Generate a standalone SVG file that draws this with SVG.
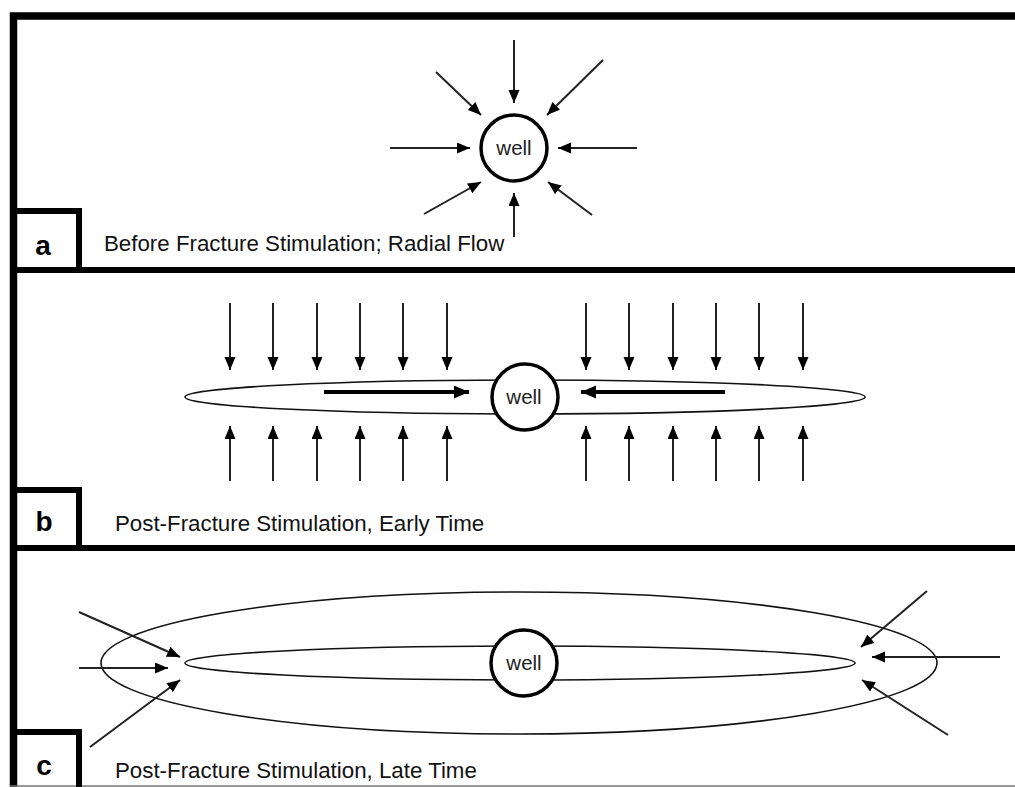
<svg xmlns="http://www.w3.org/2000/svg" width="1015" height="787" viewBox="0 0 1015 787">
<style>
.frame{fill:none;stroke:#000;stroke-width:7.5}
.box{fill:none;stroke:#000;stroke-width:6}
.well{fill:#fff;stroke:#000;stroke-width:3.5}
.frac{fill:none;stroke:#111;stroke-width:1.6}
.arr{stroke:#222;stroke-width:2;fill:none;marker-end:url(#ah)}
.thick{stroke:#000;stroke-width:4;fill:none;marker-end:url(#ahb)}
.wt{font-family:"Liberation Sans",Arial,sans-serif;font-size:20.5px;text-anchor:middle;fill:#222}
.cap{font-family:"Liberation Sans",Arial,sans-serif;font-size:22.3px;fill:#111}
.lbl{font-family:"Liberation Sans",Arial,sans-serif;font-size:28px;font-weight:bold;text-anchor:middle;fill:#000}
</style>
<defs>
<marker id="ah" markerUnits="userSpaceOnUse" markerWidth="14" markerHeight="12" refX="13" refY="5.5" orient="auto" viewBox="0 0 14 12">
<path d="M0,0 L13,5.5 L0,11 z" fill="#000"/>
</marker>
<marker id="ahb" markerUnits="userSpaceOnUse" markerWidth="16" markerHeight="14" refX="15" refY="6.5" orient="auto" viewBox="0 0 16 14">
<path d="M0,0 L15,6.5 L0,13 z" fill="#000"/>
</marker>
</defs>
<rect width="1015" height="787" fill="#fff"/>
<g id="frame">
<path class="frame" d="M1015,16 H13.5 V787"/>
<line x1="10" y1="270" x2="1015" y2="270" stroke="#000" stroke-width="6"/>
<line x1="10" y1="548" x2="1015" y2="548" stroke="#000" stroke-width="6"/>
<line x1="10" y1="786" x2="1015" y2="786" stroke="#777" stroke-width="1.5"/>
</g>
<g id="panel-a-label">
<path class="box" d="M10,211 H79 V270"/>
<text class="lbl" x="43" y="255">a</text>
<text class="cap" x="104" y="251">Before Fracture Stimulation; Radial Flow</text>
</g>
<g id="panel-b-label">
<path class="box" d="M10,490 H79 V548"/>
<text class="lbl" x="44" y="531">b</text>
<text class="cap" x="115" y="531">Post-Fracture Stimulation, Early Time</text>
</g>
<g id="panel-c-label">
<path class="box" d="M10,732 H79 V787"/>
<text class="lbl" x="44" y="775">c</text>
<text class="cap" x="115" y="778">Post-Fracture Stimulation, Late Time</text>
</g>
<g id="fracture-b">
<ellipse class="frac" cx="525" cy="397" rx="340" ry="17"/>
</g>
<g id="stimulated-region-c">
<ellipse class="frac" cx="519" cy="663" rx="418" ry="71"/>
</g>
<g id="fracture-c">
<ellipse class="frac" cx="520" cy="663" rx="335" ry="17"/>
</g>
<g id="connectors">
<!-- panel a -->
<line class="arr" x1="514" y1="40" x2="514" y2="103"/>
<line class="arr" x1="436" y1="72" x2="481" y2="115"/>
<line class="arr" x1="603" y1="60" x2="547" y2="115"/>
<line class="arr" x1="390" y1="148" x2="470" y2="148"/>
<line class="arr" x1="637" y1="148" x2="558" y2="148"/>
<line class="arr" x1="424" y1="214" x2="481" y2="182"/>
<line class="arr" x1="514" y1="237" x2="514" y2="193"/>
<line class="arr" x1="592" y1="215" x2="548" y2="182"/>
<!-- panel b top -->
<line class="arr" x1="230" y1="303" x2="230" y2="370"/>
<line class="arr" x1="273" y1="303" x2="273" y2="370"/>
<line class="arr" x1="317" y1="303" x2="317" y2="370"/>
<line class="arr" x1="360" y1="303" x2="360" y2="370"/>
<line class="arr" x1="403" y1="303" x2="403" y2="370"/>
<line class="arr" x1="447" y1="303" x2="447" y2="370"/>
<line class="arr" x1="586" y1="303" x2="586" y2="370"/>
<line class="arr" x1="629" y1="303" x2="629" y2="370"/>
<line class="arr" x1="673" y1="303" x2="673" y2="370"/>
<line class="arr" x1="716" y1="303" x2="716" y2="370"/>
<line class="arr" x1="759" y1="303" x2="759" y2="370"/>
<line class="arr" x1="803" y1="303" x2="803" y2="370"/>
<!-- panel b bottom -->
<line class="arr" x1="230" y1="481" x2="230" y2="426"/>
<line class="arr" x1="273" y1="481" x2="273" y2="426"/>
<line class="arr" x1="317" y1="481" x2="317" y2="426"/>
<line class="arr" x1="360" y1="481" x2="360" y2="426"/>
<line class="arr" x1="403" y1="481" x2="403" y2="426"/>
<line class="arr" x1="447" y1="481" x2="447" y2="426"/>
<line class="arr" x1="586" y1="481" x2="586" y2="426"/>
<line class="arr" x1="629" y1="481" x2="629" y2="426"/>
<line class="arr" x1="673" y1="481" x2="673" y2="426"/>
<line class="arr" x1="716" y1="481" x2="716" y2="426"/>
<line class="arr" x1="759" y1="481" x2="759" y2="426"/>
<line class="arr" x1="803" y1="481" x2="803" y2="426"/>
<!-- panel b fracture flow -->
<line class="thick" x1="324" y1="392" x2="469" y2="392"/>
<line class="thick" x1="725" y1="392" x2="581" y2="392"/>
<!-- panel c -->
<line class="arr" x1="79" y1="612" x2="180" y2="657"/>
<line class="arr" x1="79" y1="668" x2="168" y2="668"/>
<line class="arr" x1="90" y1="747" x2="180" y2="680"/>
<line class="arr" x1="927" y1="591" x2="861" y2="647"/>
<line class="arr" x1="1000" y1="657" x2="872" y2="657"/>
<line class="arr" x1="948" y1="735" x2="862" y2="680"/>
</g>
<g id="well-a">
<circle class="well" cx="514" cy="148" r="33"/>
<text class="wt" x="514" y="155">well</text>
</g>
<g id="well-b">
<circle class="well" cx="525" cy="397" r="33"/>
<text class="wt" x="524" y="404">well</text>
</g>
<g id="well-c">
<circle class="well" cx="524" cy="663" r="33"/>
<text class="wt" x="524" y="670">well</text>
</g>
</svg>
